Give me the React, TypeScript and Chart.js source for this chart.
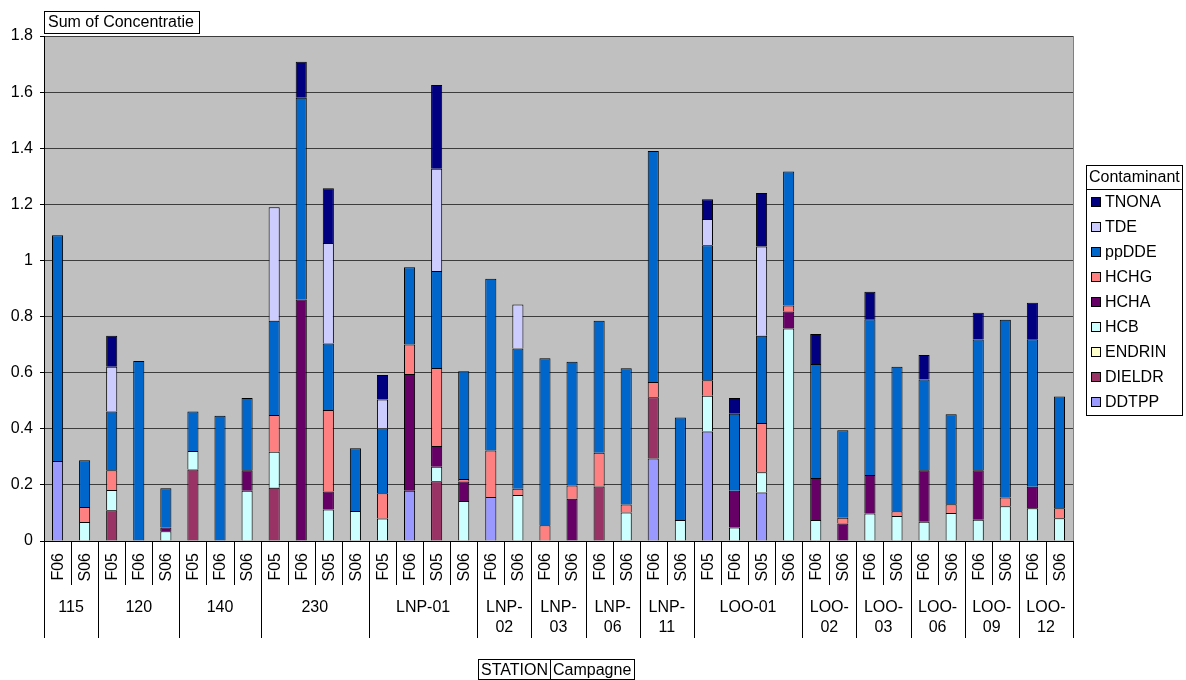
import React, { useEffect, useRef } from "react";
import { Chart, registerables } from "chart.js";

Chart.register(...registerables);

const FONT = '"Liberation Sans", Arial, Helvetica, sans-serif';

// ---- Data ----
const stations = ["115", "120", "140", "230", "LNP-01", "LNP-02", "LNP-03", "LNP-06", "LNP-11", "LOO-01", "LOO-02", "LOO-03", "LOO-06", "LOO-09", "LOO-12"];
const campaignsByStation = [
  ["F06", "S06"],
  ["F05", "F06", "S06"],
  ["F05", "F06", "S06"],
  ["F05", "F06", "S05", "S06"],
  ["F05", "F06", "S05", "S06"],
  ["F06", "S06"],
  ["F06", "S06"],
  ["F06", "S06"],
  ["F06", "S06"],
  ["F05", "F06", "S05", "S06"],
  ["F06", "S06"],
  ["F06", "S06"],
  ["F06", "S06"],
  ["F06", "S06"],
  ["F06", "S06"],
];

const contaminants = ["DDTPP", "DIELDR", "ENDRIN", "HCB", "HCHA", "HCHG", "ppDDE", "TDE", "TNONA"];
const contaminantColors = ["#9999FF", "#993366", "#FFFFCC", "#CCFFFF", "#660066", "#FF8080", "#0066CC", "#CCCCFF", "#000080"];

const DDTPP = [0.285, 0, 0, 0, 0, 0, 0, 0, 0, 0, 0, 0, 0, 0.179, 0, 0, 0.157, 0, 0, 0, 0, 0, 0.294, 0, 0.39, 0, 0.173, 0, 0, 0, 0, 0, 0, 0, 0, 0, 0, 0];
const DIELDR = [0, 0, 0.11, 0, 0, 0.255, 0, 0, 0.19, 0, 0, 0, 0, 0, 0.213, 0, 0, 0, 0, 0, 0.194, 0, 0.218, 0, 0, 0, 0, 0, 0, 0, 0, 0, 0, 0, 0, 0, 0, 0];
const ENDRIN = [0, 0, 0, 0, 0, 0, 0, 0, 0, 0, 0, 0, 0, 0, 0, 0, 0, 0, 0, 0, 0, 0, 0, 0, 0, 0, 0, 0, 0, 0, 0, 0, 0, 0, 0, 0, 0, 0];
const HCB = [0, 0.068, 0.072, 0, 0.035, 0.066, 0, 0.179, 0.128, 0, 0.112, 0.107, 0.08, 0, 0.052, 0.143, 0, 0.164, 0, 0, 0, 0.102, 0, 0.075, 0.128, 0.048, 0.072, 0.757, 0.075, 0, 0.098, 0.089, 0.069, 0.1, 0.076, 0.124, 0.117, 0.081];
const HCHA = [0, 0, 0, 0, 0.013, 0, 0, 0.073, 0, 0.861, 0.064, 0, 0, 0.416, 0.074, 0.069, 0, 0, 0, 0.151, 0, 0, 0, 0, 0, 0.131, 0, 0.061, 0.15, 0.062, 0.137, 0, 0.183, 0, 0.176, 0, 0.076, 0];
const HCHG = [0, 0.053, 0.07, 0, 0, 0, 0, 0, 0.131, 0, 0.291, 0, 0.09, 0.105, 0.278, 0.009, 0.166, 0.022, 0.056, 0.047, 0.121, 0.028, 0.055, 0, 0.055, 0, 0.176, 0.021, 0, 0.021, 0, 0.017, 0, 0.031, 0, 0.031, 0, 0.036];
const ppDDE = [0.805, 0.167, 0.21, 0.642, 0.14, 0.141, 0.446, 0.258, 0.336, 0.719, 0.237, 0.224, 0.231, 0.276, 0.345, 0.384, 0.612, 0.5, 0.595, 0.441, 0.47, 0.486, 0.823, 0.365, 0.481, 0.275, 0.311, 0.478, 0.406, 0.312, 0.555, 0.515, 0.324, 0.321, 0.466, 0.634, 0.526, 0.398];
const TDE = [0, 0, 0.159, 0, 0, 0, 0, 0, 0.405, 0, 0.358, 0, 0.103, 0, 0.365, 0, 0, 0.157, 0, 0, 0, 0, 0, 0, 0.094, 0, 0.318, 0, 0, 0, 0, 0, 0, 0, 0, 0, 0, 0];
const TNONA = [0, 0, 0.111, 0, 0, 0, 0, 0, 0, 0.128, 0.195, 0, 0.088, 0, 0.298, 0, 0, 0, 0, 0, 0, 0, 0, 0, 0.07, 0.056, 0.19, 0, 0.107, 0, 0.098, 0, 0.087, 0, 0.096, 0, 0.13, 0];

const seriesValues = [DDTPP, DIELDR, ENDRIN, HCB, HCHA, HCHG, ppDDE, TDE, TNONA];

const yMin = 0;
const yMax = 1.8;
const yStep = 0.2;

const chartTitle = "Sum of Concentratie";
const legendTitle = "Contaminant";
const axisFields = ["STATION", "Campagne"];

// flattened category labels
const barLabels: string[] = [];
const groupStarts: number[] = [];
campaignsByStation.forEach((c) => {
  groupStarts.push(barLabels.length);
  c.forEach((x) => barLabels.push(x));
});

function line(ctx: CanvasRenderingContext2D, x1: number, y1: number, x2: number, y2: number) {
  ctx.beginPath();
  ctx.moveTo(x1, y1);
  ctx.lineTo(x2, y2);
  ctx.stroke();
}

const decorPlugin = {
  id: "decor",
  beforeDraw(chart: any) {
    const { ctx, chartArea: a } = chart;
    ctx.save();
    ctx.fillStyle = "#ffffff";
    ctx.fillRect(0, 0, chart.width, chart.height);
    ctx.fillStyle = "#C0C0C0";
    ctx.fillRect(a.left, a.top, a.right - a.left, a.bottom - a.top);
    ctx.restore();
  },
  afterDraw(chart: any) {
    const { ctx, chartArea: a } = chart;
    const xs = chart.scales.x;
    const n = barLabels.length;
    const w = xs.getPixelForValue(1) - xs.getPixelForValue(0);
    const x0 = xs.getPixelForValue(0) - w / 2;
    const bottom = Math.round(a.bottom);
    ctx.save();
    ctx.lineWidth = 1;

    // plot right border
    ctx.strokeStyle = "#808080";
    line(ctx, Math.round(a.right) + 0.5, a.top, Math.round(a.right) + 0.5, bottom);

    // x axis line
    ctx.strokeStyle = "#000000";
    line(ctx, a.left, bottom + 0.5, a.right + 1, bottom + 0.5);

    // separators
    for (let k = 0; k <= n; k++) {
      const isGroup = k === 0 || k === n || groupStarts.includes(k);
      const x = Math.round(x0 + k * w) + 0.5;
      line(ctx, x, bottom, x, isGroup ? 638 : 585);
    }

    ctx.fillStyle = "#000000";
    ctx.font = `16px ${FONT}`;

    // campaign labels (rotated)
    for (let i = 0; i < n; i++) {
      const cx = xs.getPixelForValue(i);
      ctx.save();
      ctx.translate(cx + 1, 553);
      ctx.rotate(-Math.PI / 2);
      ctx.textAlign = "right";
      ctx.textBaseline = "middle";
      ctx.fillText(barLabels[i], 0, 0);
      ctx.restore();
    }

    // station labels
    ctx.textAlign = "center";
    ctx.textBaseline = "middle";
    stations.forEach((s, g) => {
      const start = groupStarts[g];
      const count = campaignsByStation[g].length;
      const cx = x0 + (start + count / 2) * w;
      const gw = count * w;
      if (ctx.measureText(s).width > gw - 4 && s.includes("-")) {
        const idx = s.indexOf("-") + 1;
        ctx.fillText(s.slice(0, idx), cx, 608);
        ctx.fillText(s.slice(idx), cx, 628);
      } else {
        ctx.fillText(s, cx, 608);
      }
    });

    // title field box
    ctx.textAlign = "left";
    ctx.strokeStyle = "#000000";
    ctx.strokeRect(44.5, 11.5, 155, 22);
    ctx.fillText(chartTitle, 48, 23);

    // axis field box
    const bx = 478.5, by = 659.5, bh = 20;
    const w1 = Math.ceil(ctx.measureText(axisFields[0]).width) + 5;
    const w2 = Math.ceil(ctx.measureText(axisFields[1]).width) + 5;
    ctx.strokeRect(bx, by, w1, bh);
    ctx.strokeRect(bx + w1, by, w2, bh);
    ctx.fillText(axisFields[0], bx + 2.5, by + bh / 2 + 1);
    ctx.fillText(axisFields[1], bx + w1 + 2.5, by + bh / 2 + 1);

    // legend
    const lx = 1086.5, ly = 165.5, lw = 96, lh = 250;
    ctx.strokeRect(lx, ly, lw, lh);
    line(ctx, lx, 189.5, lx + lw, 189.5);
    ctx.fillText(legendTitle, 1089, 178);
    const order = contaminants.map((_, i) => i).reverse();
    order.forEach((si, j) => {
      const yy = 202 + j * 25;
      ctx.fillStyle = contaminantColors[si];
      ctx.fillRect(1091, yy - 5, 10, 10);
      ctx.strokeStyle = "#000000";
      ctx.strokeRect(1091.5, yy - 4.5, 9, 9);
      ctx.fillStyle = "#000000";
      ctx.fillText(contaminants[si], 1105, yy + 1);
    });

    ctx.restore();
  },
};

export default function App() {
  const canvasRef = useRef<HTMLCanvasElement | null>(null);

  useEffect(() => {
    const canvas = canvasRef.current;
    if (!canvas) return;
    const chart = new Chart(canvas, {
      type: "bar",
      data: {
        labels: barLabels,
        datasets: contaminants.map((name, i) => ({
          label: name,
          data: seriesValues[i].map((v) => (v === 0 ? null : v)),
          backgroundColor: contaminantColors[i],
          borderColor: "#000000",
          borderWidth: 1,
          categoryPercentage: 0.41,
          barPercentage: 1,
        })),
      },
      options: {
        animation: false,
        responsive: false,
        devicePixelRatio: 1,
        layout: { padding: { left: 0, top: 36, right: 113, bottom: 139 } },
        plugins: {
          legend: { display: false },
          tooltip: { enabled: false },
          title: { display: false },
        },
        scales: {
          x: {
            type: "category",
            display: false,
            stacked: true,
            offset: true,
          },
          y: {
            stacked: true,
            min: yMin,
            max: yMax,
            afterFit: (scale: any) => {
              scale.width = 44;
            },
            border: { display: true, color: "#000000", width: 1 },
            grid: {
              color: "#3c3c3c",
              lineWidth: 1,
              drawTicks: true,
              tickLength: 4,
              tickColor: "#000000",
            },
            ticks: {
              stepSize: yStep,
              padding: 7,
              color: "#000000",
              font: { family: FONT, size: 16 },
              callback: (v: any) => String(Number(Number(v).toFixed(1))),
            },
          },
        },
      },
      plugins: [decorPlugin],
    });
    return () => chart.destroy();
  }, []);

  return (
    <div style={{ position: "fixed", left: 0, top: 0, width: 1186, height: 680, background: "#fff" }}>
      <canvas ref={canvasRef} width={1186} height={680} style={{ display: "block", width: 1186, height: 680 }} />
    </div>
  );
}
